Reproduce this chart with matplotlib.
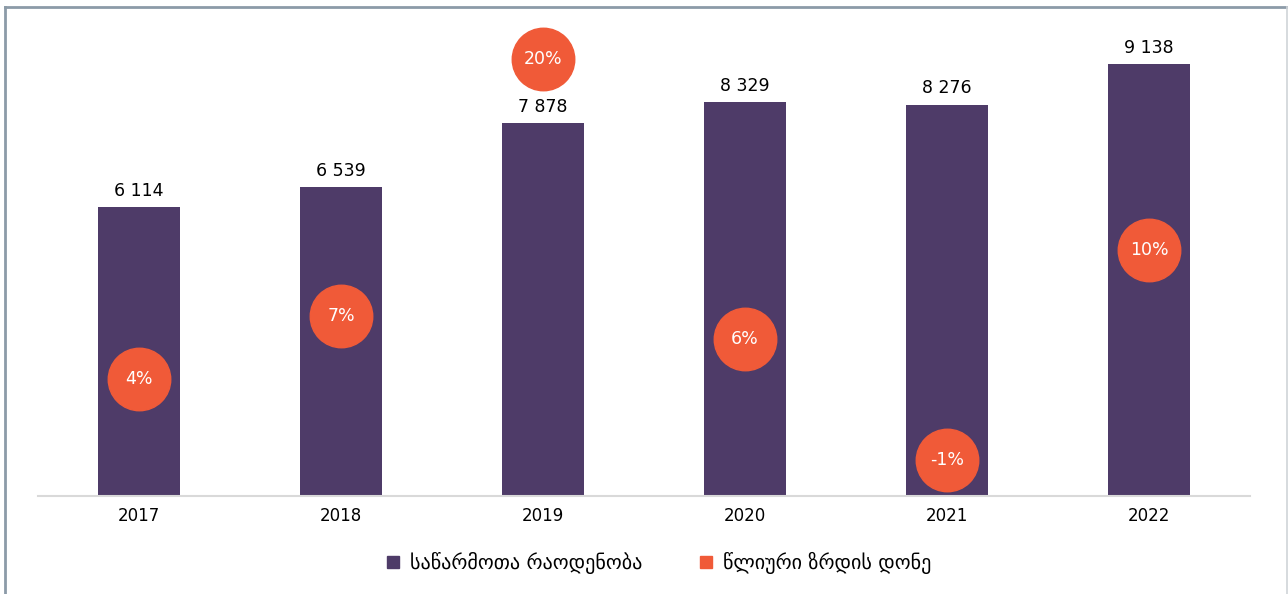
import matplotlib.pyplot as plt
from matplotlib.lines import Line2D

plt.rcParams['font.family'] = ['DejaVu Sans']

# data
years = ['2017', '2018', '2019', '2020', '2021', '2022']
counts = [6114, 6539, 7878, 8329, 8276, 9138]
growth = [3.6, 6.95, 20.48, 5.72, -0.64, 10.42]

bar_color = '#4E3B68'
dot_color = '#F05A38'

fig = plt.figure(figsize=(12.88, 5.94), dpi=100)
ax = fig.add_axes([38 / 1288, 98 / 594, 1212 / 1288, 473 / 594])

x = range(len(years))
ax.bar(x, counts, width=0.41, color=bar_color, zorder=2)
for xi, v in zip(x, counts):
    ax.text(xi, v + 150, f"{v:,}".replace(',', ' '), ha='center', va='bottom',
            fontsize=12.5, color='black')

ax.set_xlim(-0.5, len(years) - 0.5)
ax.set_ylim(0, 10000)
ax.set_yticks([])
ax.set_xticks(list(x))
ax.set_xticklabels(years, fontsize=12)
ax.tick_params(axis='x', length=0, pad=8)
for s in ['top', 'right', 'left']:
    ax.spines[s].set_visible(False)
ax.spines['bottom'].set_color('#D9D9D9')
ax.spines['bottom'].set_linewidth(1.5)

# growth rate on secondary axis
ax2 = ax.twinx()
ax2.set_ylim(-2.54, 22.37)
ax2.axis('off')
ax2.plot(list(x), growth, linestyle='none', marker='o', markersize=45,
         color=dot_color, zorder=3)
for xi, g in zip(x, growth):
    ax2.text(xi, g, f"{g:.0f}%", ha='center', va='center', fontsize=12.5,
             color='white', zorder=4)

# legend
handles = [
    Line2D([], [], linestyle='none', marker='s', markersize=9, color=bar_color),
    Line2D([], [], linestyle='none', marker='s', markersize=9, color=dot_color),
]
fig.legend(handles, ['საწარმოთა რაოდენობა', 'წლიური ზრდის დონე'],
           loc='center', bbox_to_anchor=(657 / 1288, 1 - 563 / 594), ncol=2,
           frameon=False, fontsize=14.5, handletextpad=0.35, columnspacing=2.65,
           handlelength=1.0)

# outer frame
W, H = 1288, 594
fig.add_artist(Line2D([4.5 / W, 4.5 / W], [0, 1 - 6.5 / H],
                      transform=fig.transFigure, color='#8C9BA8', linewidth=2))
fig.add_artist(Line2D([4.5 / W, 1], [1 - 6.5 / H, 1 - 6.5 / H],
                      transform=fig.transFigure, color='#8C9BA8', linewidth=2))
fig.add_artist(Line2D([1286.5 / W, 1286.5 / W], [0, 1 - 6.5 / H],
                      transform=fig.transFigure, color='#D0D4D8', linewidth=1.2))

fig.savefig('out.png', dpi=100)
